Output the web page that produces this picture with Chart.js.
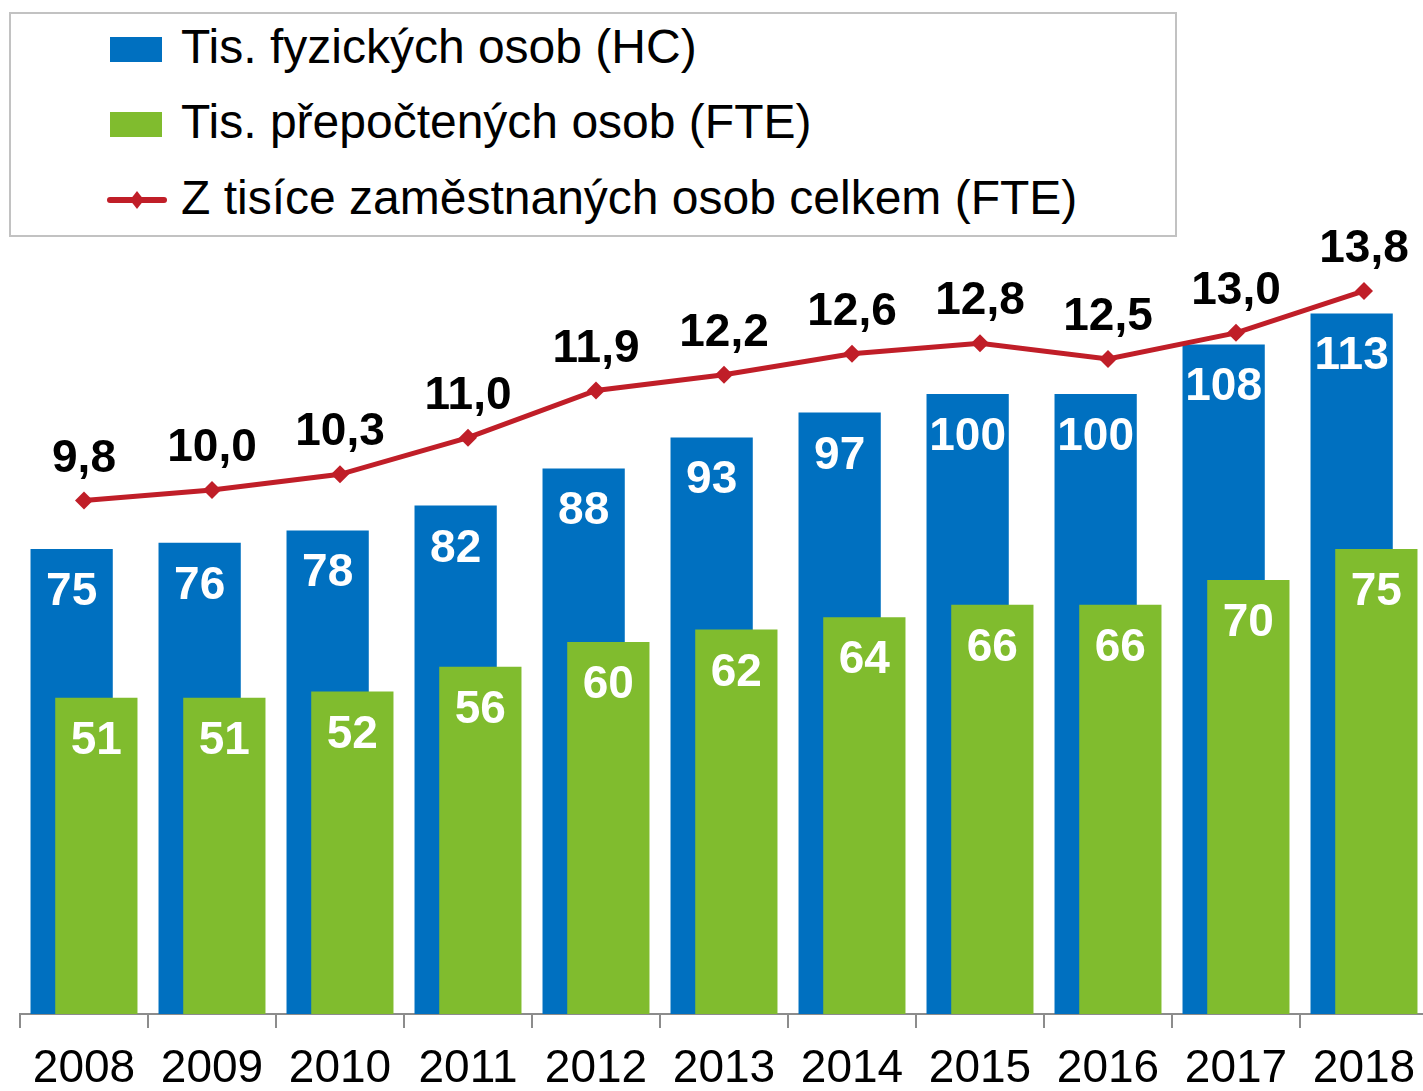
<!DOCTYPE html>
<html lang="cs">
<head>
  <meta charset="UTF-8">
  <title>Pracovníci VaV</title>
  <script src="https://cdn.jsdelivr.net/npm/chart.js"></script>
  <style>
    html, body {
      margin: 0;
      padding: 0;
      background: #fff;
      overflow: hidden;
    }
    #obal {
      position: relative;
      width: 1440px;
      height: 1110px;
    }
    #legenda {
      position: absolute;
      left: 9px;
      top: 12px;
      width: 1168px;
      height: 225px;
      box-sizing: border-box;
      border: 2px solid #c2c2c2;
      background: #fff;
      font-family: "Liberation Sans", Arial, sans-serif;
      font-size: 48px;
      color: #000;
    }
    .polozka {
      position: absolute;
      left: 170px;
      height: 60px;
      line-height: 60px;
      white-space: nowrap;
    }
    .znacka {
      position: absolute;
      left: 99px;
      line-height: 0;
    }
    .znacka svg {
      display: block;
    }
  </style>
</head>
<body>
  <div id="obal">
    <canvas id="graf" width="1440" height="1110"></canvas>
    <div id="legenda"></div>
  </div>
  <script>
    const roky = ["2008", "2009", "2010", "2011", "2012", "2013", "2014", "2015", "2016", "2017", "2018"];
    const fyzickeOsoby = [75, 76, 78, 82, 88, 93, 97, 100, 100, 108, 113];
    const prepocteneOsoby = [51, 51, 52, 56, 60, 62, 64, 66, 66, 70, 75];
    const naTisicZamestnanych = [9.8, 10.0, 10.3, 11.0, 11.9, 12.2, 12.6, 12.8, 12.5, 13.0, 13.8];

    const modra = "#0070c0";
    const zelena = "#80bc2e";
    const cervena = "#c01e28";
    const pismo = "'Liberation Sans', Arial, sans-serif";

    // modre sloupce musi byt vlevo, ale zelene se kresli pres ne
    const poradiKresleni = {
      id: "poradiKresleni",
      beforeDatasetsDraw(chart) {
        chart.getDatasetMeta(0).controller.draw();
      },
      beforeDatasetDraw(chart, args) {
        if (args.index === 0) return false;
      }
    };

    const popisky = {
      id: "popisky",
      afterDatasetsDraw(chart) {
        const ctx = chart.ctx;
        ctx.save();
        ctx.font = "bold 46px " + pismo;
        ctx.textAlign = "center";
        ctx.textBaseline = "alphabetic";
        chart.data.datasets.forEach((ds, i) => {
          const meta = chart.getDatasetMeta(i);
          meta.data.forEach((el, j) => {
            const v = ds.data[j];
            if (ds.type === "line") {
              ctx.fillStyle = "#000";
              ctx.fillText(v.toFixed(1).replace(".", ","), el.x, el.y - 29);
            } else {
              ctx.fillStyle = "#fff";
              ctx.fillText(String(v), el.x, el.y + 56);
            }
          });
        });
        ctx.restore();
      }
    };

    const graf = new Chart(document.getElementById("graf"), {
      data: {
        labels: roky,
        datasets: [
          {
            type: "bar",
            label: "Tis. fyzických osob (HC)",
            data: fyzickeOsoby,
            backgroundColor: modra,
            yAxisID: "y",
            order: 1,
            barPercentage: 3.33,
            categoryPercentage: 0.386
          },
          {
            type: "bar",
            label: "Tis. přepočtených osob (FTE)",
            data: prepocteneOsoby,
            backgroundColor: zelena,
            yAxisID: "y",
            order: 2,
            barPercentage: 3.33,
            categoryPercentage: 0.386
          },
          {
            type: "line",
            label: "Z tisíce zaměstnaných osob celkem (FTE)",
            data: naTisicZamestnanych,
            borderColor: cervena,
            backgroundColor: cervena,
            borderWidth: 5,
            pointStyle: "rectRot",
            pointRadius: 9,
            pointBorderWidth: 0,
            tension: 0,
            yAxisID: "y2",
            order: 0
          }
        ]
      },
      options: {
        responsive: false,
        animation: false,
        layout: {
          padding: { left: 20, right: 12, top: 270, bottom: 0 }
        },
        plugins: {
          legend: { display: false },
          tooltip: { enabled: false }
        },
        scales: {
          x: {
            offset: true,
            grid: {
              offset: true,
              drawOnChartArea: false,
              drawTicks: true,
              tickLength: 14,
              color: "#8c8c8c",
              lineWidth: 2
            },
            border: { display: true, color: "#8c8c8c", width: 2 },
            ticks: {
              color: "#000",
              padding: 13.4,
              font: { size: 46, family: pismo }
            }
          },
          y: { display: false, min: 0, max: 120 },
          y2: { display: false, min: 0, max: 14.2, position: "right" }
        }
      },
      plugins: [poradiKresleni, popisky]
    });

    // legenda jako HTML podle datovych rad grafu
    const legenda = document.getElementById("legenda");
    const radkyTop = [3, 78, 153.5];
    const znackyTop = [23, 98, 175];
    graf.data.datasets.forEach((ds, i) => {
      const zn = document.createElement("div");
      zn.className = "znacka";
      zn.style.top = znackyTop[i] + "px";
      if (ds.type === "line") {
        zn.innerHTML = '<svg width="60" height="22" viewBox="0 0 60 22">' +
          '<line x1="3" y1="11" x2="57" y2="11" stroke="' + ds.borderColor + '" stroke-width="6" stroke-linecap="round"/>' +
          '<polygon points="30,2 37,11 30,20 23,11" fill="' + ds.borderColor + '"/></svg>';
        zn.style.left = "96px";
      } else {
        zn.style.width = "52px";
        zn.style.height = "25px";
        zn.style.background = ds.backgroundColor;
      }
      legenda.appendChild(zn);
      const txt = document.createElement("div");
      txt.className = "polozka";
      txt.style.top = radkyTop[i] + "px";
      txt.textContent = ds.label;
      legenda.appendChild(txt);
    });
  </script>
</body>
</html>
